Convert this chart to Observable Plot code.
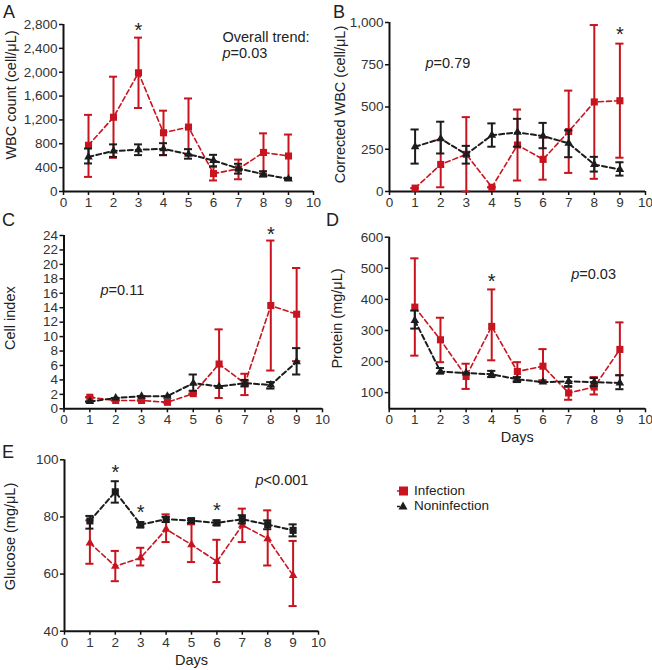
<!DOCTYPE html>
<html><head><meta charset="utf-8">
<script src="https://cdn.jsdelivr.net/npm/d3@7"></script>
<script src="https://cdn.jsdelivr.net/npm/@observablehq/plot@0.6"></script>
<style>
body{margin:0;background:#fff;}
#wrap{position:relative;width:652px;height:670px;font-family:"Liberation Sans",Arial,sans-serif;color:#222;overflow:hidden;}
.panel{position:absolute;}
.letter{position:absolute;font-size:18px;line-height:18px;color:#222;}
.legend{position:absolute;font-size:13.5px;line-height:15px;color:#222;}
.legend div{display:flex;align-items:center;height:15px;}
.legend svg{margin-right:5px;}
</style></head><body><div id="wrap"></div>
<script>
const days = [1,2,3,4,5,6,7,8,9];
const xTicks = [0,1,2,3,4,5,6,7,8,9,10];
const seriesNames = ["Infection","Noninfection"];

// A: WBC count
const wbcInfMean = [775,1245,1990,985,1080,300,380,655,595];
const wbcInfLo   = [245,565,1400,610,620,185,205,300,215];
const wbcInfHi   = [1285,1925,2580,1355,1560,420,535,975,955];
const wbcNonMean = [580,680,700,715,625,520,385,290,210];
const wbcNonLo   = [470,580,610,610,550,420,300,250,195];
const wbcNonHi   = [720,790,790,810,710,615,465,340,230];
const wbcTicks = [0,400,800,1200,1600,2000,2400,2800];

// B: Corrected WBC
const corInfMean = [20,160,220,25,275,190,355,530,537];
const corInfLo   = [20,25,0,25,65,70,110,75,200];
const corInfHi   = [20,305,440,25,485,320,597,985,875];
const corNonMean = [265,312,220,333,350,328,285,160,130];
const corNonLo   = [165,225,165,265,265,256,203,118,94];
const corNonHi   = [367,413,270,403,430,406,362,205,173];
const corTicks = [0,250,500,750,1000];

// C: Cell index
const ciInfMean = [1.6,1.15,1.15,0.9,2.1,6.2,3.5,14.3,13.1];
const ciInfLo   = [1.6,1.15,1.15,0.9,2.1,1.5,1.9,5.3,6.6];
const ciInfHi   = [1.6,1.15,1.15,0.9,2.1,11.0,4.85,23.3,19.5];
const ciNonMean = [1.0,1.5,1.75,1.75,3.55,3.1,3.55,3.3,6.5];
const ciNonLo   = [1.0,1.5,1.75,1.75,2.5,3.1,3.1,2.8,4.75];
const ciNonHi   = [1.0,1.5,1.75,1.75,4.75,3.1,4.0,3.7,8.4];
const ciTicks = [0,2,4,6,8,10,12,14,16,18,20,22,24];

// D: Protein
const prInfMean = [375,270,152,313,168,185,99,118,239];
const prInfLo   = [219,198,112,204,137,140,77,94,156];
const prInfHi   = [532,341,193,432,198,240,118,150,326];
const prNonMean = [332,168,163,159,143,134,136,134,131];
const prNonLo   = [306,161,163,150,134,134,121,121,111];
const prNonHi   = [364,179,163,170,150,134,150,147,156];
const prTicks = [100,200,300,400,500,600];

// E: Glucose
const glInfMean = [70.9,62.7,65.7,75.7,70.3,64.4,77.1,72.4,59.5];
const glInfLo   = [63.6,57.5,63,71.2,64.2,57.2,71.2,63,48.8];
const glInfHi   = [78.8,68.1,69.2,80.9,77.4,72,82.9,82.3,71.6];
const glNonMean = [78.6,88.8,77.3,79.2,78.7,77.9,79.2,77.3,75.3];
const glNonLo   = [75.9,85,76.3,78.2,77.9,77.1,77.7,75.7,73.2];
const glNonHi   = [80.35,92.5,78.2,80,79.4,78.8,80.6,78.8,77.4];
const glTicks = [40,60,80,100];

// significance stars (day, height in data units)
const starsA = [{day:3, y:2715}];
const starsB = [{day:9, y:933}];
const starsC = [{day:8, y:24.3}];
const starsD = [{day:4, y:460}];
const starsE = [{day:2, y:96},{day:3, y:81.8},{day:6, y:82.4}];

const RED = "#c8141f", BLACK = "#1c1c1c";
const FONT = "'Liberation Sans', Arial, sans-serif";

function rows(mean, lo, hi){ return days.map((d,i)=>({day:d, mean:mean[i], lo:lo[i], hi:hi[i]})); }

function seriesMarks(data, color, symbol, r, sw){
  const cap = 0.16;
  return [
    Plot.line(data, {x:"day", y:"mean", stroke:color, strokeWidth:sw, strokeDasharray:"5,3"}),
    Plot.ruleX(data, {x:"day", y1:"lo", y2:"hi", stroke:color, strokeWidth:2}),
    Plot.ruleY(data, {y:"lo", x1:d=>d.day-cap, x2:d=>d.day+cap, stroke:color, strokeWidth:2}),
    Plot.ruleY(data, {y:"hi", x1:d=>d.day-cap, x2:d=>d.day+cap, stroke:color, strokeWidth:2}),
    Plot.dot(data, {x:"day", y:"mean", symbol, r, fill:color, stroke:"none"})
  ];
}

function italicP(svg){
  svg.querySelectorAll("text, tspan").forEach(el=>{
    if (el.children.length) return;
    const t = el.textContent;
    if (/^p[=<]/.test(t)) {
      el.textContent = "";
      const ns = "http://www.w3.org/2000/svg";
      const ts = document.createElementNS(ns, "tspan");
      ts.setAttribute("font-style","italic");
      ts.textContent = "p";
      el.appendChild(ts);
      el.appendChild(document.createTextNode(t.slice(1)));
    }
  });
}

function panel(o){
  const marks = [
    Plot.axisX({ticks:xTicks, tickSize:4, tickPadding:2, strokeWidth:1.5, label:null, fill:"#333", fontSize:13.5}),
    Plot.axisY({ticks:o.yTicks, tickSize:4, tickPadding:2, strokeWidth:1.5, label:null, fill:"#333", fontSize:13.5, tickFormat:o.fmt}),
    Plot.ruleY([o.ydom[0]], {strokeWidth:2, stroke:"#111"}),
    Plot.ruleX([0], {strokeWidth:2, stroke:"#111"}),
    ...seriesMarks(o.inf, RED, o.infSym, o.infR, 1.6),
    ...seriesMarks(o.non, BLACK, o.nonSym, o.nonR, 2),
    Plot.text(o.stars, {x:"day", y:"y", text:()=>"*", fontSize:20, dy:1, fill:"#222"}),
    Plot.text([o.ylabel], {frameAnchor:"left", rotate:-90, dx:o.ldx, dy:o.ldy, fontSize:14.5, textAnchor:"middle", lineAnchor:"middle", fill:"#222"}),
    ...o.notes.map(n=>Plot.text([n.t], {frameAnchor:"top-left", dx:n.dx, dy:n.dy, textAnchor:"start", lineAnchor:"middle", fontSize:14.5, fill:"#222"}))
  ];
  if (o.xlabel) marks.push(Plot.text([o.xlabel], {frameAnchor:"bottom", dy:o.xdy, fontSize:14.5, lineAnchor:"middle", fill:"#222"}));
  const p = Plot.plot({
    width:o.width, height:o.height,
    marginLeft:o.ml, marginRight:o.mr, marginTop:o.mt, marginBottom:o.mb,
    style:{fontFamily:FONT, fontSize:"13.5px", background:"transparent", overflow:"visible", color:"#111"},
    x:{domain:[0,10]},
    y:{domain:o.ydom},
    marks
  });
  italicP(p);
  const div = document.createElement("div");
  div.className = "panel";
  div.style.left = o.left+"px"; div.style.top = o.top+"px";
  div.appendChild(p);
  document.getElementById("wrap").appendChild(div);
}

const fmtComma = d3.format(",");

panel({left:0, top:0, width:326, height:215, ml:63, mr:13, mt:24, mb:24,
  ydom:[0,2800], yTicks:wbcTicks, fmt:fmtComma,
  inf:rows(wbcInfMean,wbcInfLo,wbcInfHi), non:rows(wbcNonMean,wbcNonLo,wbcNonHi),
  infSym:"square", infR:4, nonSym:"triangle", nonR:3.2,
  stars:starsA, ylabel:"WBC count (cell/μL)", ldx:-52, ldy:-13,
  notes:[{t:"Overall trend:", dx:159, dy:13},{t:"p=0.03", dx:159, dy:29}]});

panel({left:326, top:0, width:326, height:215, ml:63, mr:7, mt:22, mb:24,
  ydom:[0,1000], yTicks:corTicks, fmt:fmtComma,
  inf:rows(corInfMean,corInfLo,corInfHi), non:rows(corNonMean,corNonLo,corNonHi),
  infSym:"square", infR:4, nonSym:"triangle", nonR:3.2,
  stars:starsB, ylabel:"Corrected WBC (cell/μL)", ldx:-49.5, ldy:-2.5,
  notes:[{t:"p=0.79", dx:36, dy:41}]});

panel({left:0, top:215, width:326, height:215, ml:63.5, mr:4, mt:20, mb:21.7,
  ydom:[0,24], yTicks:ciTicks, fmt:d=>d,
  inf:rows(ciInfMean,ciInfLo,ciInfHi), non:rows(ciNonMean,ciNonLo,ciNonHi),
  infSym:"square", infR:4, nonSym:"triangle", nonR:3.2,
  stars:starsC, ylabel:"Cell index", ldx:-53.5, ldy:-4,
  notes:[{t:"p=0.11", dx:36.5, dy:55}]});

panel({left:326, top:215, width:326, height:235, ml:62.7, mr:7, mt:21.7, mb:41.7,
  ydom:[48,600], yTicks:prTicks, fmt:d=>d,
  inf:rows(prInfMean,prInfLo,prInfHi), non:rows(prNonMean,prNonLo,prNonHi),
  infSym:"square", infR:4, nonSym:"triangle", nonR:3.2,
  stars:starsD, ylabel:"Protein (mg/μL)", ldx:-51.7, ldy:-4.5,
  xlabel:"Days", xdy:28.7,
  notes:[{t:"p=0.03", dx:182, dy:37}]});

panel({left:0, top:440, width:326, height:230, ml:64, mr:8, mt:19.3, mb:39.3,
  ydom:[40,100], yTicks:glTicks, fmt:d=>d,
  inf:rows(glInfMean,glInfLo,glInfHi), non:rows(glNonMean,glNonLo,glNonHi),
  infSym:"triangle", infR:3.2, nonSym:"square", nonR:4,
  stars:starsE, ylabel:"Glucose (mg/μL)", ldx:-54, ldy:-9,
  xlabel:"Days", xdy:29.3,
  notes:[{t:"p<0.001", dx:191, dy:21}]});

// panel letters
const wrap = document.getElementById("wrap");
[["A",3,3],["B",333,3],["C",2,211],["D",326,211],["E",2,443]].forEach(([t,x,y])=>{
  const d = document.createElement("div");
  d.className="letter"; d.textContent=t; d.style.left=x+"px"; d.style.top=y+"px";
  wrap.appendChild(d);
});

// legend
const leg = document.createElement("div");
leg.className = "legend"; leg.style.left="397px"; leg.style.top="483px";
const symSvg = {
  Infection:`<svg width="12" height="12"><rect x="2" y="1.5" width="9" height="9" fill="${RED}"/><line x1="0" y1="6" x2="3" y2="6" stroke="${RED}" stroke-width="1.5"/></svg>`,
  Noninfection:`<svg width="12" height="12"><path d="M6,1.5L10.5,9.5L1.5,9.5Z" fill="${BLACK}"/><line x1="0" y1="6.5" x2="3" y2="6.5" stroke="${BLACK}" stroke-width="1.5"/></svg>`
};
seriesNames.forEach(n=>{
  const row = document.createElement("div");
  row.innerHTML = symSvg[n] + `<span>${n}</span>`;
  leg.appendChild(row);
});
wrap.appendChild(leg);
</script></body></html>
